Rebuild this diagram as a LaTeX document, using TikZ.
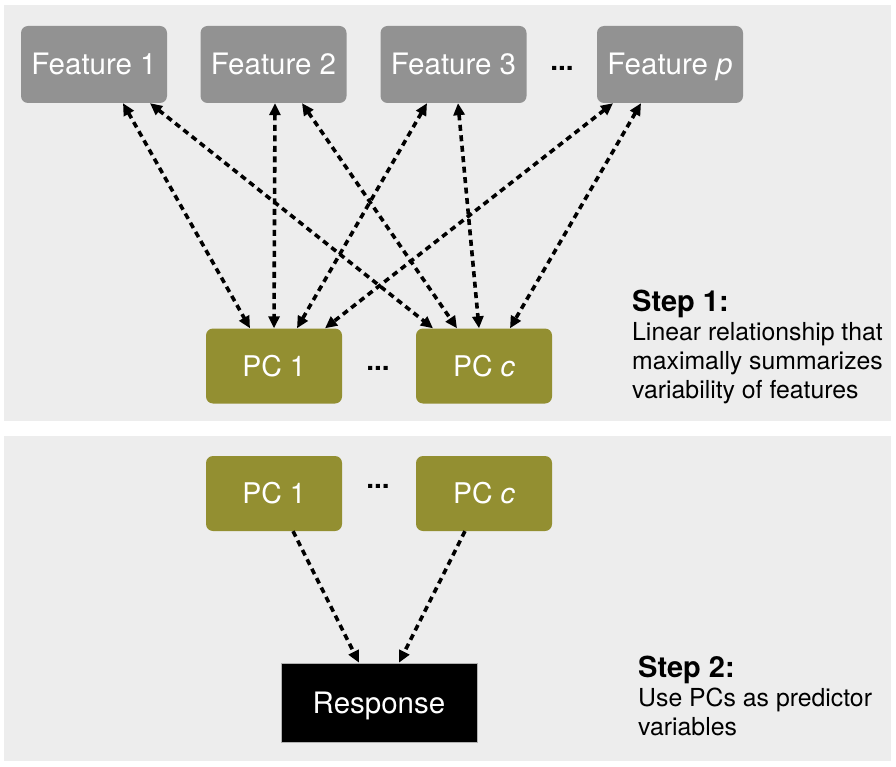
\documentclass[tikz,border=0pt]{standalone}
\usepackage{fontspec}
\setmainfont{TeX Gyre Heros}
\usepackage{xcolor}
\usepackage{tikz}
\usetikzlibrary{arrows.meta,positioning}

\definecolor{panelgray}{RGB}{237,237,237}
\definecolor{featgray}{RGB}{146,146,146}
\definecolor{pcolive}{RGB}{147,143,49}

\begin{document}
\begin{tikzpicture}[
        x=1pt, y=-1pt,
        featbox/.style={
            fill=featgray,
            rounded corners=7pt,
            minimum width=146pt,
            minimum height=77pt,
            text height=21pt,
            text depth=0pt,
            text=white,
            font=\fontsize{29.5}{34}\selectfont
            },
        pcbox/.style={
            fill=pcolive,
            rounded corners=7pt,
            minimum width=136pt,
            minimum height=75pt,
            text height=20pt,
            text depth=0pt,
            text=white,
            font=\fontsize{28.5}{34}\selectfont
            },
        dots/.style={
            font=\fontsize{28}{34}\selectfont\bfseries
            },
        link/.style={
            line width=3.6pt,
            dash pattern=on 6pt off 4.5pt,
            {Triangle[length=12pt,width=11pt]}-{Triangle[length=12pt,width=11pt]}
            },
        feed/.style={
            line width=3.6pt,
            dash pattern=on 6pt off 4.5pt,
            -{Triangle[length=12pt,width=11pt]}
            },
        steptext/.style={
            anchor=north west,
            align=left,
            inner sep=0pt,
            font=\fontsize{24.8}{29}\selectfont
            }
    ]
                \useasboundingbox (0,0) rectangle (896,767);

                % the two panels
                \fill[panelgray] (3.5,5) rectangle (891,421);
                \fill[panelgray] (3.5,436) rectangle (891,761);

                % features
                \node[featbox] (feat1) at (94,64.5) {Feature 1};
                \node[featbox] (feat2) at (273.5,64.5) {Feature 2};
                \node[featbox] (feat3) at (453.5,64.5) {Feature 3};
                \node[featbox] (featp) at (670,64.5) {Feature \textit{p}};
                \node[dots] (fdots) at (562,68) {...};

                % step 1 components
                \node[pcbox] (pc1) at (274,366) {PC 1};
                \node[pcbox] (pcc) at (484,366) {PC \textit{c}};
                \node[dots] (pdots) at (378,368) {...};

                % step 2 components
                \node[pcbox] (pcA) at (274,493.5) {PC 1};
                \node[pcbox] (pcB) at (484,493.5) {PC \textit{c}};
                \node[dots] (qdots) at (378,486) {...};
                \node[
                    fill=black,
                    draw=gray!60,
                    line width=0.6pt,
                    minimum width=196pt,
                    minimum height=79pt,
                    text height=21pt,
                    text depth=0pt,
                    text=white,
                    font=\fontsize{29.5}{34}\selectfont
                    ] (resp) at (379,702.5) {Response};

                % links features <-> components
                \draw[link] ([xshift=29pt]feat1.south) to ([xshift=-24pt]pc1.north);
                \draw[link] ([xshift=56pt]feat1.south) to ([xshift=-51pt]pcc.north);
                \draw[link] ([xshift=1.5pt]feat2.south) to (pc1.north);
                \draw[link] ([xshift=28.5pt]feat2.south) to ([xshift=-27pt]pcc.north);
                \draw[link] ([xshift=-26.5pt]feat3.south) to ([xshift=23pt]pc1.north);
                \draw[link] ([xshift=4.5pt]feat3.south) to ([xshift=-5pt]pcc.north);
                \draw[link] ([xshift=-57pt]featp.south) to ([xshift=51pt]pc1.north);
                \draw[link] ([xshift=-29pt]featp.south) to ([xshift=26pt]pcc.north);

                % components -> response
                \draw[feed] ([xshift=19pt]pcA.south) to ([xshift=-20pt]resp.north);
                \draw[feed] ([xshift=-19pt]pcB.south) to ([xshift=20pt]resp.north);

                % step texts
                \node[steptext] (step1) at (632,290) {{\fontsize{29}{32}\selectfont\bfseries Step 1:}\\[0pt]
                    Linear relationship that\\maximally summarizes\\variability of features};
                \node[steptext] (step2) at (638,656) {{\fontsize{29}{32}\selectfont\bfseries Step 2:}\\[0pt]
                    Use PCs as predictor\\variables};

\end{tikzpicture}
\end{document}
